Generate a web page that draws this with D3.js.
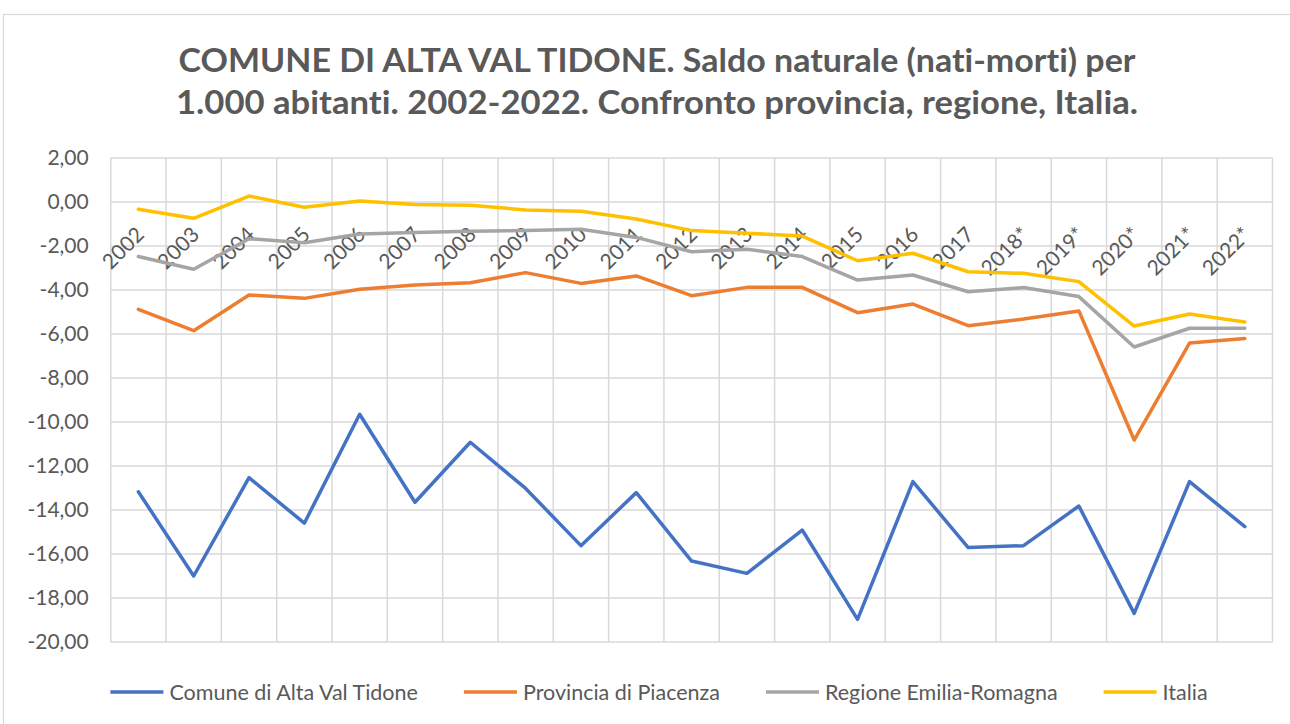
<!DOCTYPE html>
<html>
<head>
<meta charset="utf-8">
<script src="https://cdnjs.cloudflare.com/ajax/libs/d3/7.8.5/d3.min.js"></script>
<style>
  body { margin: 0; background: #fff; }
  svg { display: block; font-family: Lato, 'Open Sans', sans-serif; font-variant-ligatures: none; }
</style>
</head>
<body>
<script>
// categories and series (per 1.000 abitanti)
const years = ['2002', '2003', '2004', '2005', '2006', '2007', '2008', '2009', '2010', '2011',
  '2012', '2013', '2014', '2015', '2016', '2017', '2018*', '2019*', '2020*', '2021*', '2022*'];
const comune = [-13.17, -17.0, -12.53, -14.6, -9.65, -13.65, -10.92, -13.02, -15.62, -13.21,
  -16.32, -16.88, -14.91, -18.97, -12.71, -15.71, -15.62, -13.82, -18.70, -12.71, -14.76];
const provincia = [-4.88, -5.85, -4.23, -4.38, -3.97, -3.77, -3.67, -3.21, -3.70, -3.36,
  -4.26, -3.88, -3.88, -5.03, -4.64, -5.62, -5.32, -4.95, -10.82, -6.41, -6.20];
const regione = [-2.48, -3.06, -1.67, -1.85, -1.45, -1.39, -1.33, -1.30, -1.24, -1.61,
  -2.26, -2.15, -2.48, -3.55, -3.32, -4.08, -3.89, -4.30, -6.59, -5.74, -5.74];
const italia = [-0.33, -0.74, 0.27, -0.24, 0.05, -0.11, -0.15, -0.36, -0.42, -0.77,
  -1.30, -1.42, -1.55, -2.67, -2.33, -3.17, -3.24, -3.62, -5.64, -5.09, -5.45];
const yTicks = [2, 0, -2, -4, -6, -8, -10, -12, -14, -16, -18, -20];

const series = [
  {name: 'Comune di Alta Val Tidone', values: comune, color: '#4472C4'},
  {name: 'Provincia di Piacenza', values: provincia, color: '#ED7D31'},
  {name: 'Regione Emilia-Romagna', values: regione, color: '#A5A5A5'},
  {name: 'Italia', values: italia, color: '#FFC000'}
];

const W = 1290, H = 724;
const plot = {left: 110.7, right: 1272.5, top: 158, bottom: 642};
const textColor = '#595959';
const gridColor = '#d9d9d9';

const it = d3.formatLocale({decimal: ',', thousands: '.', grouping: [3], currency: ['', '€'], minus: '-'});
const fmt = it.format('.2f');

const svg = d3.select('body').append('svg')
  .attr('width', W)
  .attr('height', H);

// chart area border
svg.append('rect')
  .attr('x', 3.5).attr('y', 14.5)
  .attr('width', W + 20).attr('height', H + 20)
  .attr('fill', '#fff')
  .attr('stroke', gridColor)
  .attr('stroke-width', 1.2);

// title (narrowed to the width of the original font)
const title = svg.append('text')
  .attr('text-anchor', 'middle')
  .attr('fill', textColor)
  .style('font-size', '32px')
  .style('font-weight', 'bold');
title.append('tspan').attr('x', 657).attr('y', 72)
  .attr('textLength', 957).attr('lengthAdjust', 'spacingAndGlyphs')
  .text('COMUNE DI ALTA VAL TIDONE. Saldo naturale (nati-morti) per');
title.append('tspan').attr('x', 657).attr('y', 114)
  .attr('textLength', 962).attr('lengthAdjust', 'spacingAndGlyphs')
  .text('1.000 abitanti. 2002-2022. Confronto provincia, regione, Italia.');

// scales
const x = d3.scaleBand()
  .domain(years)
  .range([plot.left, plot.right])
  .padding(0);
const y = d3.scaleLinear()
  .domain([-20, 2])
  .range([plot.bottom, plot.top]);
const cx = d => x(d) + x.bandwidth() / 2;

// horizontal gridlines
svg.append('g')
  .selectAll('line')
  .data(yTicks)
  .join('line')
  .attr('x1', plot.left).attr('x2', plot.right)
  .attr('y1', d => y(d)).attr('y2', d => y(d))
  .attr('stroke', gridColor)
  .attr('stroke-width', 1.5);

// vertical gridlines at band edges
const edges = years.map(d => x(d)).concat([plot.right]);
svg.append('g')
  .selectAll('line')
  .data(edges)
  .join('line')
  .attr('x1', d => d).attr('x2', d => d)
  .attr('y1', plot.top).attr('y2', plot.bottom)
  .attr('stroke', gridColor)
  .attr('stroke-width', 1.5);

// y axis labels
svg.append('g')
  .attr('transform', 'translate(' + plot.left + ',0)')
  .call(d3.axisLeft(y).tickValues(yTicks).tickFormat(fmt).tickSize(0).tickPadding(22))
  .call(g => g.select('.domain').remove())
  .selectAll('text')
    .attr('fill', textColor)
    .style('font-family', 'Lato, sans-serif')
    .style('font-size', '21px');

// category labels, rotated, hanging under the zero line
svg.append('g')
  .selectAll('text')
  .data(years)
  .join('text')
  .attr('transform', d => 'translate(' + (cx(d) + 7) + ',' + (y(0) + 34) + ') rotate(-45)')
  .attr('text-anchor', 'end')
  .attr('fill', textColor)
  .style('font-size', '21px')
  .text(d => d);

// series lines
const line = d3.line()
  .x((v, i) => cx(years[i]))
  .y(v => y(v));
svg.append('g')
  .selectAll('path')
  .data(series)
  .join('path')
  .attr('d', s => line(s.values))
  .attr('fill', 'none')
  .attr('stroke', s => s.color)
  .attr('stroke-width', 3.5)
  .attr('stroke-linejoin', 'round')
  .attr('stroke-linecap', 'round');

// legend
const legend = svg.append('g');
const items = legend.selectAll('g')
  .data(series)
  .join('g');
items.append('line')
  .attr('x1', 0).attr('x2', 53)
  .attr('y1', 0).attr('y2', 0)
  .attr('stroke', s => s.color)
  .attr('stroke-width', 3.5);
items.append('text')
  .attr('x', 59)
  .attr('y', 7.5)
  .attr('fill', textColor)
  .style('font-size', '21.5px')
  .text(s => s.name);

const gap = 46;
let pos = 0;
const starts = [];
items.each(function() {
  starts.push(pos);
  pos += 59 + d3.select(this).select('text').node().getComputedTextLength() + gap;
});
const total = pos - gap;
const lx = 659 - total / 2;
items.attr('transform', (s, i) => 'translate(' + (lx + starts[i]) + ',692)');
</script>
</body>
</html>
